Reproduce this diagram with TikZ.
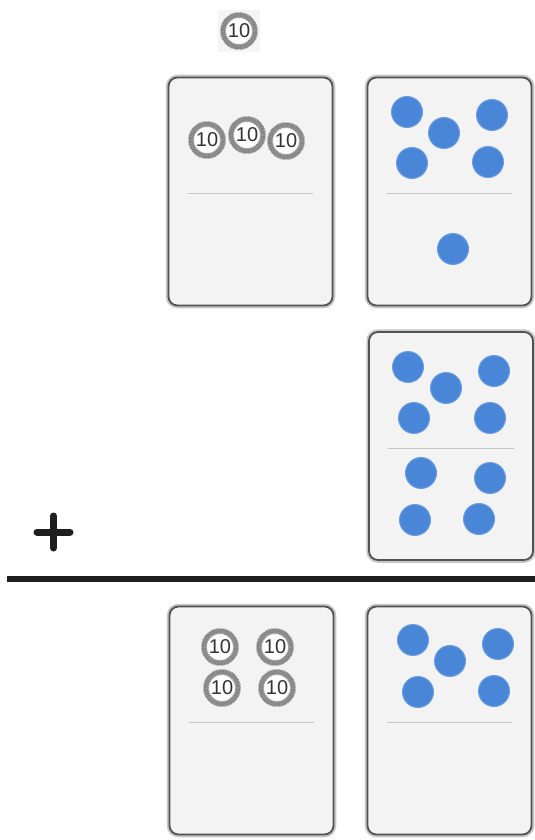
\documentclass[tikz,border=0pt]{standalone}
\usepackage{fontspec}
\newfontfamily\chipfont{Liberation Sans}
\usepackage{tikz}
\usetikzlibrary{positioning,calc}
\definecolor{chip}{RGB}{118,118,118}
\definecolor{bead}{RGB}{74,134,216}
\definecolor{cardbg}{RGB}{243,243,243}

\begin{document}
\begin{tikzpicture}[x=1pt,y=-1pt,
  card/.style={draw=black!68,line width=1.8pt,rounded corners=9pt,fill=cardbg,
    minimum width=164pt,minimum height=228pt,inner sep=0pt,
    preaction={draw=gray!45,line width=5.5pt}},
  ten/.style={circle,fill=white,draw=chip,line width=4.4pt,minimum size=32pt,inner sep=0pt,
    font=\chipfont\fontsize{20}{20}\selectfont,text=black!80,
    postaction={draw=chip!75,line width=6pt,dash pattern=on 0.7pt off 0.7pt}},
  dot/.style={circle,fill=bead,draw=bead!80!white,line width=1pt,minimum size=31pt,inner sep=0pt},
  divider/.style={draw=gray!45,line width=1pt},
]
  \useasboundingbox (0,0) rectangle (535,840);

  % loose chip on top
  \fill[gray!8] (218,10) rectangle (260,52);
  \node[ten] (tenTop) at (239,31) {10};

  % cards
  \node[card] (cardTL) at (250.5,191.5) {};
  \node[card] (cardTR) at (449.5,191.5) {};
  \node[card] (cardMR) at (451,446) {};
  \node[card] (cardBL) at (251.5,720.5) {};
  \node[card] (cardBR) at (449.5,720.5) {};

  \foreach \c in {cardTL,cardTR,cardMR,cardBL,cardBR}
    \draw[divider] ($(\c.north west)+(20,117)$) -- ($(\c.north east)+(-20,117)$);

  % tens
  \foreach \x/\y [count=\i] in {207/140,247/135,286/141}
    \node[ten] (tenA\i) at (\x,\y) {10};
  \foreach \x/\y [count=\i] in {220/647,275/647,222/688,277/688}
    \node[ten] (tenB\i) at (\x,\y) {10};

  % ones
  \foreach \x/\y [count=\i] in {407/112,444/133,492/115,412/163,488/162,453/249}
    \node[dot] (oneA\i) at (\x,\y) {};
  \foreach \x/\y [count=\i] in {408/367,446/388,494/371,414/418,490/418,421/473,490/478,415/520,479/519}
    \node[dot] (oneB\i) at (\x,\y) {};
  \foreach \x/\y [count=\i] in {413/640,450/661,498/644,418/692,494/691}
    \node[dot] (oneC\i) at (\x,\y) {};

  % plus and sum line
  \draw[line width=7pt,line cap=round,black!88] (37,532) -- (70,532) (53.5,516) -- (53.5,548);
  \draw[line width=6pt,black!88] (7,579) -- (535,579);
\end{tikzpicture}
\end{document}
